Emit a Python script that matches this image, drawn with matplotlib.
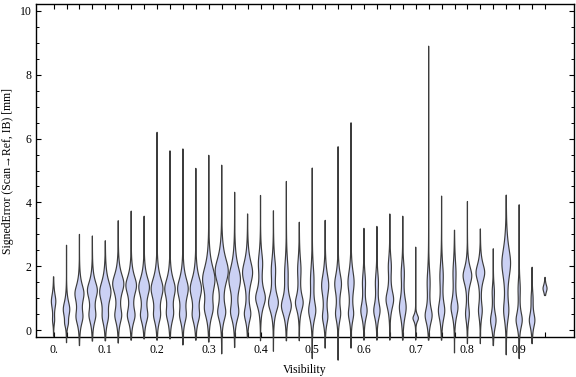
import numpy as np
import matplotlib
matplotlib.use("Agg")
import matplotlib.pyplot as plt
from matplotlib.ticker import MultipleLocator

# ---------------- data ----------------
visibility = [0.0, 0.025, 0.05, 0.075, 0.1, 0.125, 0.15, 0.175, 0.2, 0.225,
              0.25, 0.275, 0.3, 0.325, 0.35, 0.375, 0.4, 0.425, 0.45, 0.475,
              0.5, 0.525, 0.55, 0.575, 0.6, 0.625, 0.65, 0.675, 0.7, 0.725,
              0.75, 0.775, 0.8, 0.825, 0.85, 0.875, 0.9, 0.925, 0.95]

err_min = [-0.20, -0.40, -0.49, -0.35, -0.34, -0.41, -0.32, -0.28, -0.32, -0.28,
           -0.47, -0.32, -0.38, -0.75, -0.55, -0.24, -0.34, -0.67, -0.34, -0.34,
           -0.90, -0.57, -0.95, -0.57, -0.32, -0.32, -0.32, -0.32, -0.32, -0.32,
           -0.32, -0.72, -0.43, -0.43, -0.49, -0.78, -0.90, -0.43, 1.08]

err_max = [1.67, 2.66, 3.00, 2.95, 2.80, 3.43, 3.73, 3.57, 6.20, 5.62,
           5.68, 5.07, 5.48, 5.17, 4.32, 3.64, 4.22, 3.74, 4.66, 3.38,
           5.08, 3.44, 5.75, 6.50, 3.19, 3.25, 3.64, 3.57, 2.60, 8.90,
           4.20, 3.13, 4.03, 3.17, 2.55, 4.23, 3.93, 1.97, 1.65]

# main density lobe: centre [mm], relative density, spread [mm]
lobe1_center = [0.90, 0.65, 1.15, 1.25, 1.20, 1.45, 1.40, 1.35, 1.30, 1.30,
                1.30, 1.30, 1.60, 1.85, 1.60, 1.80, 1.00, 0.85, 0.75, 0.85,
                0.60, 1.40, 1.45, 1.50, 0.60, 0.60, 0.95, 0.70, 0.37, 0.45,
                0.60, 0.70, 1.70, 1.80, 0.30, 2.10, 0.31, 0.30, 1.30]
lobe1_density = [2.2, 3.2, 4.3, 4.8, 5.5, 5.5, 5.2, 5.2, 5.8, 5.0,
                 5.2, 5.5, 6.0, 6.5, 5.7, 5.0, 4.7, 4.7, 4.7, 3.7,
                 3.3, 3.5, 3.3, 3.0, 3.0, 3.0, 3.7, 3.3, 2.7, 3.3,
                 3.0, 3.3, 4.3, 4.3, 2.7, 4.3, 3.0, 2.7, 2.0]
lobe1_spread = [0.21, 0.23, 0.26, 0.26, 0.31, 0.29, 0.28, 0.29, 0.32, 0.29,
                0.31, 0.32, 0.38, 0.38, 0.38, 0.34, 0.26, 0.26, 0.26, 0.23,
                0.26, 0.34, 0.30, 0.34, 0.23, 0.23, 0.26, 0.30, 0.10, 0.23,
                0.26, 0.26, 0.26, 0.26, 0.23, 0.45, 0.23, 0.21, 0.11]

# secondary density lobe
lobe2_center = [0.30, 0.20, 0.40, 0.45, 0.40, 0.45, 0.45, 0.45, 0.45, 0.50,
                0.45, 0.45, 0.65, 0.55, 0.55, 0.50, 2.10, 1.90, 1.80, 1.90,
                1.60, 0.40, 0.50, 0.50, 1.50, 1.50, 2.00, 1.80, 0.00, 1.50,
                1.70, 1.80, 0.50, 0.60, 1.20, 0.60, 1.30, 1.00, 0.00]
lobe2_density = [0.8, 1.0, 3.0, 3.0, 2.3, 3.1, 3.5, 3.2, 2.7, 3.0,
                 2.7, 2.9, 3.4, 3.6, 3.4, 3.0, 2.0, 2.0, 1.6, 1.6,
                 1.6, 2.3, 2.3, 2.3, 1.4, 1.4, 1.4, 1.4, 0.0, 1.4,
                 1.6, 1.4, 1.8, 1.8, 1.0, 2.3, 1.0, 0.8, 0.0]
lobe2_spread = [0.13, 0.11, 0.22, 0.22, 0.22, 0.22, 0.22, 0.22, 0.22, 0.24,
                0.22, 0.22, 0.26, 0.24, 0.24, 0.22, 0.32, 0.35, 0.40, 0.35,
                0.40, 0.22, 0.22, 0.22, 0.30, 0.30, 0.30, 0.30, 0.75, 0.38,
                0.38, 0.38, 0.23, 0.23, 0.23, 0.30, 0.30, 0.23, 0.75]

x_label_values = [0.0, 0.1, 0.2, 0.3, 0.4, 0.5, 0.6, 0.7, 0.8, 0.9]
x_label_texts = ["0.", "0.1", "0.2", "0.3", "0.4", "0.5", "0.6", "0.7", "0.8", "0.9"]
y_ticks = [0, 2, 4, 6, 8, 10]

# ---------------- styling ----------------
FILL = "#cbd1f4"
EDGE = "#3c3c3c"
SERIF = ["Liberation Serif", "DejaVu Serif"]
WIDTH_SCALE = 0.025 / 12.93   # density unit -> visibility units (1 px)

fig = plt.figure(figsize=(5.76, 3.77), dpi=100)
ax = fig.add_axes([36 / 576, 1 - 336.7 / 377, (574 - 36) / 576, (336.7 - 4.3) / 377])


def lobe(y, c, d, s):
    return d / np.cosh((y - c) / s)


for i, v in enumerate(visibility):
    y = np.linspace(err_min[i], err_max[i], 800)
    dens = lobe(y, lobe1_center[i], lobe1_density[i], lobe1_spread[i]) \
        + lobe(y, lobe2_center[i], lobe2_density[i], lobe2_spread[i])
    hw = dens * WIDTH_SCALE
    xs = np.concatenate([v - hw, (v + hw)[::-1]])
    ys = np.concatenate([y, y[::-1]])
    ax.fill(xs, ys, facecolor=FILL, edgecolor=EDGE, linewidth=0.85,
            clip_on=False, zorder=3)

ax.set_xlim(-0.034, 1.006)
ax.set_ylim(-0.21, 10.21)

labels = []
for v in visibility:
    lab = ""
    for lv, lt in zip(x_label_values, x_label_texts):
        if abs(lv - v) < 1e-9:
            lab = lt
    labels.append(lab)
ax.set_xticks(visibility)
ax.set_xticklabels(labels)
ax.set_yticks(y_ticks)
ax.set_yticklabels([str(t) for t in y_ticks])
ax.yaxis.set_minor_locator(MultipleLocator(0.5))

ax.tick_params(axis="x", which="major", direction="in", top=True, bottom=True,
               length=3.8, width=0.8, pad=5, labelsize=8.5, colors="black")
ax.tick_params(axis="y", which="major", direction="in", left=True, right=True,
               length=3.5, width=0.8, pad=3, labelsize=8.5, colors="black")
ax.tick_params(axis="y", which="minor", direction="in", left=True, right=True,
               length=2.0, width=0.7)
for lab in ax.get_xticklabels() + ax.get_yticklabels():
    lab.set_family(SERIF)

for s in ax.spines.values():
    s.set_linewidth(1.0)
    s.set_color("black")

ax.set_xlabel("Visibility", family=SERIF, fontsize=8.5, labelpad=6)
ax.set_ylabel("SignedError (Scan\u2192Ref, IB) [mm]", family=SERIF, fontsize=8.5, labelpad=4)

fig.savefig("out.png", dpi=100)
